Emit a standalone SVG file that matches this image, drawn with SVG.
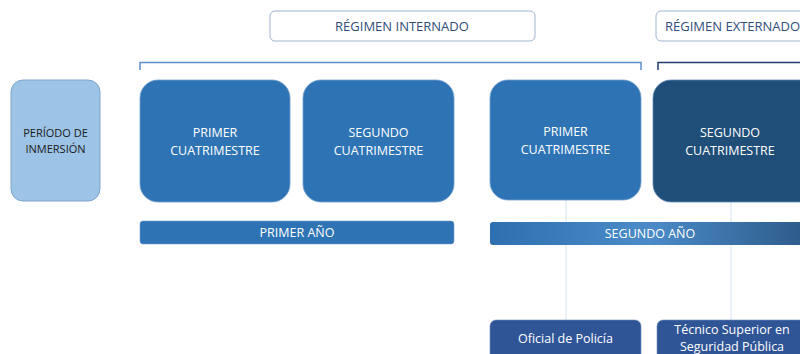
<svg xmlns="http://www.w3.org/2000/svg" width="800" height="354" viewBox="0 0 800 354">
<style>
.t{font-family:"Open Sans","Liberation Sans",sans-serif;text-anchor:middle}
.w{fill:#ffffff;font-size:12.5px}
.hd{fill:#2f4d7a;font-size:13px}
.sem{stroke:#6f9ccc;stroke-width:0.8}
.b{fill:#2e74b5}
</style>
<defs>
<linearGradient id="g2" x1="0" y1="0" x2="1" y2="0">
<stop offset="0" stop-color="#2e6fb0"/>
<stop offset="0.5" stop-color="#4a8bc8"/>
<stop offset="1" stop-color="#2d5a88"/>
</linearGradient>
</defs>
<rect width="800" height="354" fill="#ffffff"/>
<g id="connectors" fill="none">
<path d="M140 70 V62.5 H641 V70" stroke="#5b8fcb" stroke-width="1.5"/>
<path d="M658 70 V62.5 H800" stroke="#1f3f6f" stroke-width="1.5"/>
<line x1="566" y1="200" x2="566" y2="320" stroke="#e4edf7" stroke-width="1.5"/>
<line x1="731" y1="202" x2="731" y2="320" stroke="#e4edf7" stroke-width="1.5"/>
</g>
<g id="reg-internado">
<rect x="270" y="11" width="265" height="30" rx="5" fill="#ffffff" stroke="#9fb3cf" stroke-width="1"/>
<text class="t hd" x="402" y="30.5">RÉGIMEN INTERNADO</text>
</g>
<g id="reg-externado">
<rect x="656" y="11" width="160" height="30" rx="5" fill="#ffffff" stroke="#9fb3cf" stroke-width="1"/>
<text class="t hd" x="665" y="30.5" style="text-anchor:start">RÉGIMEN EXTERNADO</text>
</g>
<g id="periodo">
<rect x="11" y="80" width="89" height="121" rx="12" fill="#9dc3e6" stroke="#7fa5cc" stroke-width="1"/>
<text class="t" x="55.5" y="137" fill="#1a1a1a" font-size="11">PERÍODO DE</text>
<text class="t" x="55.5" y="153" fill="#1a1a1a" font-size="11">INMERSIÓN</text>
</g>
<g id="primer-cuat-1">
<rect class="b sem" x="140" y="80" width="150" height="122" rx="18"/>
<text class="t w" x="215" y="137">PRIMER</text>
<text class="t w" x="215" y="155">CUATRIMESTRE</text>
</g>
<g id="segundo-cuat-1">
<rect class="b sem" x="303" y="80" width="151" height="122" rx="18"/>
<text class="t w" x="378.5" y="137">SEGUNDO</text>
<text class="t w" x="378.5" y="155">CUATRIMESTRE</text>
</g>
<g id="primer-cuat-2">
<rect class="b sem" x="490" y="80" width="151" height="120" rx="18"/>
<text class="t w" x="565.5" y="136">PRIMER</text>
<text class="t w" x="565.5" y="154">CUATRIMESTRE</text>
</g>
<g id="segundo-cuat-2">
<rect x="653" y="80" width="165" height="122" rx="18" fill="#1f4e79" stroke="#5f88b5" stroke-width="0.8"/>
<text class="t w" x="730" y="137">SEGUNDO</text>
<text class="t w" x="730" y="155">CUATRIMESTRE</text>
</g>
<g id="primer-anio">
<rect class="b" x="140" y="221" width="314" height="23" rx="3" stroke="#6f9ccc" stroke-width="0.6"/>
<text class="t w" x="297" y="237">PRIMER AÑO</text>
</g>
<g id="segundo-anio">
<rect x="490" y="222" width="320" height="23" rx="3" fill="url(#g2)"/>
<text class="t w" x="650" y="238">SEGUNDO AÑO</text>
</g>
<g id="oficial">
<rect x="490" y="320" width="151" height="44" rx="6" fill="#2f5597" stroke="#6f8fc0" stroke-width="0.6"/>
<text class="t w" x="565.5" y="343">Oficial de Policía</text>
</g>
<g id="tecnico">
<rect x="657" y="320" width="160" height="44" rx="6" fill="#2f5597" stroke="#6f8fc0" stroke-width="0.6"/>
<text class="t w" x="732" y="334">Técnico Superior en</text>
<text class="t w" x="732" y="351">Seguridad Pública</text>
</g>
</svg>
